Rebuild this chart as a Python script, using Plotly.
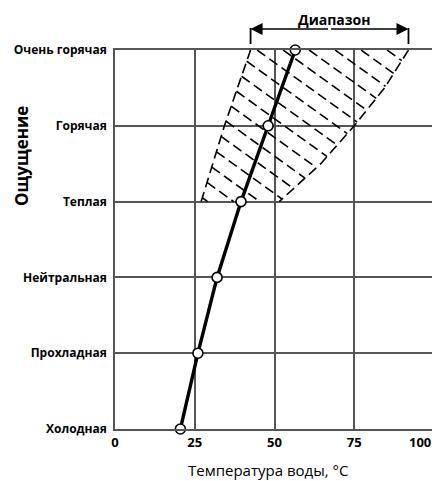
import numpy as np
import plotly.graph_objects as go

# ---------------- data ----------------
sensations = ["Холодная", "Прохладная", "Нейтральная", "Теплая", "Горячая", "Очень горячая"]
levels = [0, 1, 2, 3, 4, 5]
temps = [20.5, 26, 32, 39.5, 48, 56.5]

x_ticks = [0, 25, 50, 75, 100]
x_tick_labels = ["0", "25", "50", "75", "100"]

# comfort range band (hatched area)
range_left_levels = [3, 4, 5]
range_left_temp = [27, 34.3, 42.5]
range_right_levels = [5, 4.5, 4, 3.5, 3]
range_right_temp = [92, 84.5, 75, 64.5, 51.5]
range_label = "Диапазон"

x_title = "Температура воды, °C"
y_title = "Ощущение"

# ---------------- geometry ----------------
OFF = 8                      # page body margin of the html page
SW, SH = 440, 481            # screen size
W, H = SW - OFF, SH - OFF
ML, MR, MT, MB = 115 - OFF, 6, 50 - OFF, 52
PW = W - ML - MR
PH = H - MT - MB
XMIN, XMAX = 0, 100
YMIN, YMAX = 0, 5
px_per_x = PW / (XMAX - XMIN)
px_per_y = PH / (YMAX - YMIN)

def paper_x(px):             # screen px -> paper
    return (px - OFF - ML) / PW

def paper_y(py):
    return (H + OFF - MB - py) / PH

# ---------------- hatch lines ----------------
poly = list(zip(range_left_temp, range_left_levels)) + list(zip(range_right_temp, range_right_levels))

def inside(x, y):
    n = len(poly)
    res = np.zeros_like(x, dtype=bool)
    for i in range(n):
        x1, y1 = poly[i]
        x2, y2 = poly[(i + 1) % n]
        cond = ((y1 > y) != (y2 > y))
        with np.errstate(divide="ignore", invalid="ignore"):
            xint = x1 + (y - y1) * (x2 - x1) / (y2 - y1)
        res ^= cond & (x < xint)
    return res

slope_px = 0.72                        # hatch slope in screen pixels (down-right)
s = slope_px * px_per_x / px_per_y     # in data units
spacing = 26 / px_per_x                # horizontal spacing along the top
a0 = 52.7
hx, hy = [], []
xs = np.arange(-60, 100, 0.02)
for k in range(-14, 8):
    a = a0 + spacing * k
    ys = YMAX - s * (xs - a)
    m = inside(xs, ys)
    if m.any():
        idx = np.where(m)[0]
        x1, x2 = xs[idx[0]], xs[idx[-1]]
        hx += [x1, x2, None]
        hy += [YMAX - s * (x1 - a), YMAX - s * (x2 - a), None]

fig = go.Figure()
dash = "10px,5px"
hl = dict(color="black", width=1.6, dash=dash)
fig.add_trace(go.Scatter(x=hx, y=hy, mode="lines", line=hl, hoverinfo="skip", showlegend=False))
fig.add_trace(go.Scatter(x=range_left_temp, y=range_left_levels, mode="lines", line=hl,
                         hoverinfo="skip", showlegend=False))
fig.add_trace(go.Scatter(x=range_right_temp, y=range_right_levels, mode="lines", line=hl,
                         hoverinfo="skip", showlegend=False))

fig.add_trace(go.Scatter(x=temps, y=levels, mode="lines+markers",
                         line=dict(color="black", width=3.4),
                         marker=dict(size=10, color="white", line=dict(color="black", width=1.6)),
                         cliponaxis=False, showlegend=False))

grid = "#555555"
tick_font = dict(family="Open Sans", size=13, color="black", weight="bold")
# the last label sits at the very edge of the page: draw it right-aligned so it stays visible
shown_ticktext = x_tick_labels[:-1] + [""]
fig.update_xaxes(range=[XMIN, XMAX], tickvals=x_ticks, ticktext=shown_ticktext,
                 showgrid=True, gridcolor=grid, gridwidth=1.5,
                 zeroline=False, showline=True, mirror=True, linecolor=grid, linewidth=1.5,
                 ticks="", tickfont=tick_font, ticklabelstandoff=1, automargin=False)
fig.add_annotation(x=x_ticks[-1], y=paper_y(442), xref="x", yref="paper", text=x_tick_labels[-1],
                   xanchor="right", xshift=-1, yanchor="middle", showarrow=False, font=tick_font)

fig.update_yaxes(range=[YMIN, YMAX], tickvals=levels, ticktext=sensations, showgrid=True,
                 gridcolor=grid, gridwidth=1.5, zeroline=False, showline=True, mirror=True,
                 linecolor=grid, linewidth=1.5, ticks="", automargin=False,
                 tickfont=dict(family="Open Sans", size=12, color="black", weight="bold"),
                 ticklabelstandoff=4)

# range bracket
ybr = paper_y(29)
mid = (range_left_temp[-1] + range_right_temp[0]) / 2
for xe in (range_left_temp[-1], range_right_temp[0]):
    fig.add_annotation(x=xe, y=ybr, xref="x", yref="paper", ax=mid, ay=0, axref="x", ayref="pixel",
                       showarrow=True, arrowhead=2, arrowsize=1.6, arrowwidth=1.5, arrowcolor="black",
                       text="", standoff=0)
    fig.add_shape(type="line", xref="x", yref="paper", x0=xe, x1=xe, y0=paper_y(44), y1=paper_y(28),
                  line=dict(color="black", width=1.8))

fig.add_annotation(x=paper_x(334), y=paper_y(19), xref="paper", yref="paper", text=range_label,
                   xanchor="center", yanchor="middle", showarrow=False,
                   font=dict(family="Open Sans", size=14, color="black", weight="bold"))
fig.add_annotation(x=paper_x(268), y=paper_y(470), xref="paper", yref="paper", text=x_title,
                   xanchor="center", yanchor="middle", showarrow=False,
                   font=dict(family="Open Sans", size=15, color="black"))
fig.add_annotation(x=paper_x(21), y=paper_y(156), xref="paper", yref="paper", text=y_title,
                   xanchor="center", yanchor="middle", showarrow=False, textangle=-90,
                   font=dict(family="Open Sans", size=17, color="black", weight="bold"))

fig.update_layout(width=W, height=H, margin=dict(l=ML, r=MR, t=MT, b=MB),
                  plot_bgcolor="white", paper_bgcolor="white", showlegend=False)

fig.write_html("out.html")
